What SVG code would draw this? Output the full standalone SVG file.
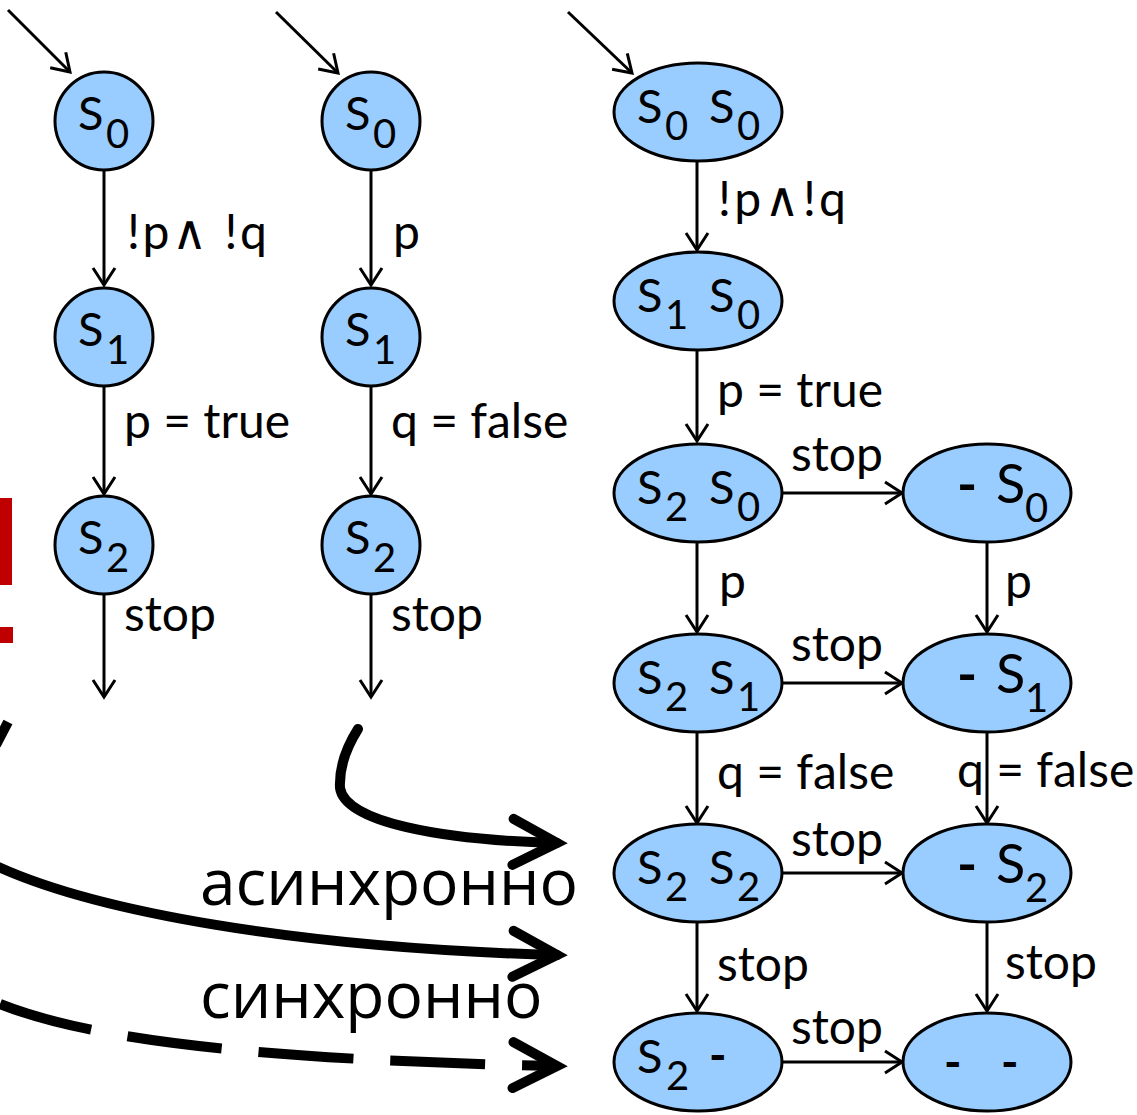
<svg xmlns="http://www.w3.org/2000/svg" width="1137" height="1115" viewBox="0 0 1137 1115">
  <style>
    .st { fill: #99CCFF; stroke: #000; stroke-width: 3; }
    .s { font-family: Lato, "Liberation Sans", sans-serif; font-size: 47px; fill: #000; }
    .s2 { font-family: Lato, "Liberation Sans", sans-serif; font-size: 54px; fill: #000; }
    .sub { font-size: 40px; }
    .dsh { font-weight: bold; }
    .lbl { font-family: Lato, "Liberation Sans", "DejaVu Sans", sans-serif; font-size: 48px; fill: #000; }
    .big { font-family: "Open Sans", "Noto Sans", sans-serif; font-size: 64px; fill: #000; }
    .edge { fill: none; stroke: #000; stroke-width: 3; marker-end: url(#arr); }
    .fat { fill: none; stroke: #000; stroke-width: 10; stroke-linecap: round; marker-end: url(#fatarr); }
    .dash { fill: none; stroke: #000; stroke-width: 10; stroke-dasharray: 95 37; marker-end: url(#fatarr); }
  </style>
  <defs>
    <marker id="arr" markerUnits="userSpaceOnUse" viewBox="0 0 20 24" markerWidth="20" markerHeight="24" refX="18" refY="12" orient="auto" overflow="visible">
      <path d="M1,1 L18,12 L1,23" fill="none" stroke="#000" stroke-width="3"/>
    </marker>
    <marker id="fatarr" markerUnits="userSpaceOnUse" viewBox="0 0 60 60" markerWidth="60" markerHeight="60" refX="50" refY="30" orient="auto" overflow="visible">
      <path d="M6,7 L50,30 L6,53" fill="none" stroke="#000" stroke-width="10" stroke-linecap="round" stroke-linejoin="miter"/>
    </marker>
  </defs>

  <!-- red mark at the left edge -->
  <g id="red-mark" fill="#C00000">
    <rect x="0" y="498" width="12" height="87"/>
    <rect x="0" y="627" width="13" height="16"/>
  </g>

  <!-- connectors -->
  <g id="connectors">
    <!-- initial arrows -->
    <path class="edge" d="M8,10 L70,72"/>
    <path class="edge" d="M276,12 L338,73"/>
    <path class="edge" d="M568,12 L632,73"/>
    <!-- first automaton -->
    <path class="edge" d="M104,171 L104,285"/>
    <path class="edge" d="M104,387 L104,494"/>
    <path class="edge" d="M104,595 L104,697"/>
    <!-- second automaton -->
    <path class="edge" d="M371,171 L371,285"/>
    <path class="edge" d="M371,387 L371,494"/>
    <path class="edge" d="M371,595 L371,697"/>
    <!-- product: left column -->
    <path class="edge" d="M697,161 L697,250"/>
    <path class="edge" d="M697,350 L697,441"/>
    <path class="edge" d="M697,542 L697,632"/>
    <path class="edge" d="M697,732 L697,823"/>
    <path class="edge" d="M697,922 L697,1011"/>
    <!-- product: right column -->
    <path class="edge" d="M987,542 L987,632"/>
    <path class="edge" d="M987,732 L987,823"/>
    <path class="edge" d="M987,922 L987,1011"/>
    <!-- product: horizontal stop edges -->
    <path class="edge" d="M783,493 L902,493"/>
    <path class="edge" d="M783,683 L902,683"/>
    <path class="edge" d="M783,873 L902,873"/>
    <path class="edge" d="M783,1062 L902,1062"/>
    <!-- composition arrows -->
    <path d="M-4,745 L8,722" fill="none" stroke="#000" stroke-width="10"/>
    <path class="fat" d="M358,729 C346,748 339,768 340,788 C345,822 440,840 557,843"/>
    <path class="fat" d="M-12,862 C90,912 300,948 557,955"/>
    <path class="dash" d="M0,1004 C90,1040 260,1060 557,1066"/>
  </g>

  <!-- first automaton -->
  <g id="a1-s0">
    <circle class="st" cx="104" cy="121" r="49"/>
    <text class="s" x="78" y="130">S<tspan class="sub" x="106" y="148">0</tspan></text>
  </g>
  <g id="a1-s1">
    <circle class="st" cx="104" cy="337" r="49"/>
    <text class="s" x="78" y="346">S<tspan class="sub" x="106" y="364">1</tspan></text>
  </g>
  <g id="a1-s2">
    <circle class="st" cx="104" cy="545" r="49"/>
    <text class="s" x="78" y="554">S<tspan class="sub" x="106" y="572">2</tspan></text>
  </g>

  <!-- second automaton -->
  <g id="a2-s0">
    <circle class="st" cx="371" cy="121" r="49"/>
    <text class="s" x="345" y="130">S<tspan class="sub" x="373" y="148">0</tspan></text>
  </g>
  <g id="a2-s1">
    <circle class="st" cx="371" cy="337" r="49"/>
    <text class="s" x="345" y="346">S<tspan class="sub" x="373" y="364">1</tspan></text>
  </g>
  <g id="a2-s2">
    <circle class="st" cx="371" cy="545" r="49"/>
    <text class="s" x="345" y="554">S<tspan class="sub" x="373" y="572">2</tspan></text>
  </g>

  <!-- product automaton: left column -->
  <g id="p-s0s0">
    <ellipse class="st" cx="698" cy="112" rx="84" ry="49"/>
    <text class="s" x="637" y="123">S<tspan class="sub" x="665" y="140">0</tspan><tspan x="709" y="123">S</tspan><tspan class="sub" x="737" y="140">0</tspan></text>
  </g>
  <g id="p-s1s0">
    <ellipse class="st" cx="698" cy="301" rx="84" ry="49"/>
    <text class="s" x="637" y="312">S<tspan class="sub" x="665" y="329">1</tspan><tspan x="709" y="312">S</tspan><tspan class="sub" x="737" y="329">0</tspan></text>
  </g>
  <g id="p-s2s0">
    <ellipse class="st" cx="698" cy="493" rx="84" ry="49"/>
    <text class="s" x="637" y="504">S<tspan class="sub" x="665" y="521">2</tspan><tspan x="709" y="504">S</tspan><tspan class="sub" x="737" y="521">0</tspan></text>
  </g>
  <g id="p-s2s1">
    <ellipse class="st" cx="698" cy="683" rx="84" ry="49"/>
    <text class="s" x="637" y="694">S<tspan class="sub" x="665" y="711">2</tspan><tspan x="709" y="694">S</tspan><tspan class="sub" x="737" y="711">1</tspan></text>
  </g>
  <g id="p-s2s2">
    <ellipse class="st" cx="698" cy="873" rx="84" ry="49"/>
    <text class="s" x="637" y="884">S<tspan class="sub" x="665" y="901">2</tspan><tspan x="709" y="884">S</tspan><tspan class="sub" x="737" y="901">2</tspan></text>
  </g>
  <g id="p-s2x">
    <ellipse class="st" cx="698" cy="1062" rx="84" ry="49"/>
    <text class="s" x="637" y="1073">S<tspan class="sub" x="666" y="1090">2</tspan><tspan class="dsh" x="709" y="1072">-</tspan></text>
  </g>

  <!-- product automaton: right column -->
  <g id="p-xs0">
    <ellipse class="st" cx="987" cy="493" rx="84" ry="49"/>
    <text class="s2" x="957" y="503"><tspan class="dsh">-</tspan><tspan x="996">S</tspan><tspan class="sub" x="1025" y="522">0</tspan></text>
  </g>
  <g id="p-xs1">
    <ellipse class="st" cx="987" cy="683" rx="84" ry="49"/>
    <text class="s2" x="957" y="693"><tspan class="dsh">-</tspan><tspan x="996">S</tspan><tspan class="sub" x="1025" y="712">1</tspan></text>
  </g>
  <g id="p-xs2">
    <ellipse class="st" cx="987" cy="873" rx="84" ry="49"/>
    <text class="s2" x="957" y="883"><tspan class="dsh">-</tspan><tspan x="996">S</tspan><tspan class="sub" x="1025" y="902">2</tspan></text>
  </g>
  <g id="p-xx">
    <ellipse class="st" cx="987" cy="1062" rx="84" ry="49"/>
    <text class="s dsh" x="944" y="1079">-<tspan x="1001">-</tspan></text>
  </g>

  <!-- edge labels -->
  <g id="labels" class="lbl">
    <text x="127" y="249" textLength="140">!p∧ !q</text>
    <text x="393" y="249">p</text>
    <text x="124" y="438">p = true</text>
    <text x="391" y="438">q = false</text>
    <text x="124" y="631">stop</text>
    <text x="391" y="631">stop</text>
    <text x="718" y="216" textLength="128">!p∧!q</text>
    <text x="717" y="407">p = true</text>
    <text x="791" y="471">stop</text>
    <text x="719" y="598">p</text>
    <text x="1005" y="598">p</text>
    <text x="791" y="661">stop</text>
    <text x="717" y="789">q = false</text>
    <text x="957" y="787">q = false</text>
    <text x="791" y="856">stop</text>
    <text x="717" y="981">stop</text>
    <text x="1005" y="979">stop</text>
    <text x="791" y="1044">stop</text>
  </g>

  <!-- composition mode captions -->
  <text class="big" x="200" y="905">асинхронно</text>
  <text class="big" x="200" y="1018">синхронно</text>
</svg>
